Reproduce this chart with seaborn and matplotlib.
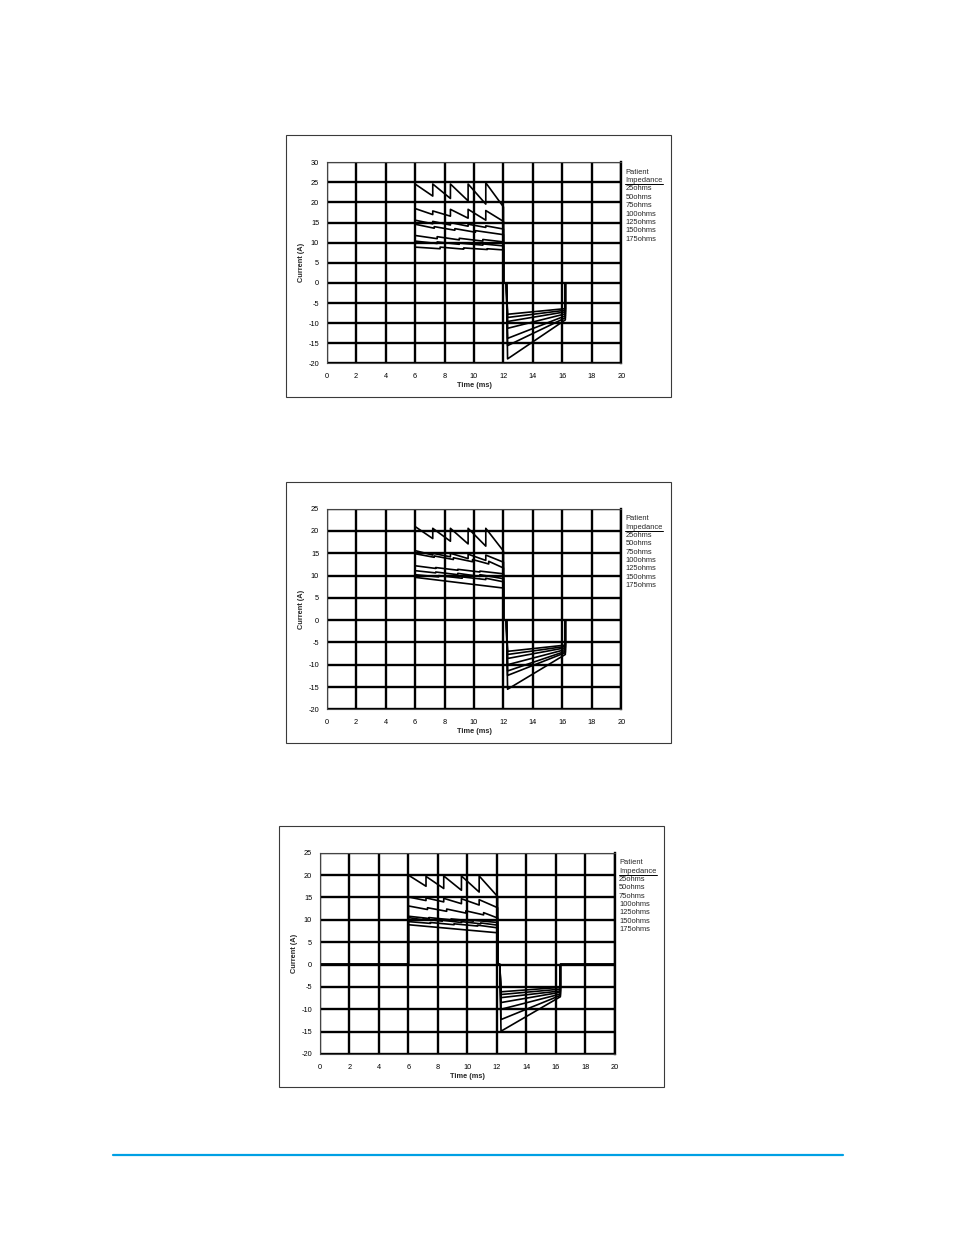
import matplotlib
matplotlib.use("Agg")
import matplotlib.pyplot as plt
from matplotlib.lines import Line2D
from matplotlib.patches import Rectangle
import numpy as np
import pandas as pd
import seaborn as sns

# ---------------- data ----------------
IMPEDANCES = ["25ohms", "50ohms", "75ohms", "100ohms", "125ohms", "150ohms", "175ohms"]
X_TICKS = [0, 2, 4, 6, 8, 10, 12, 14, 16, 18, 20]
Y_TICKS_1 = [-20, -15, -10, -5, 0, 5, 10, 15, 20, 25, 30]
Y_TICKS_23 = [-20, -15, -10, -5, 0, 5, 10, 15, 20, 25]

# phase timing (ms): positive start, positive end, negative start, negative end
C1_PHASES = [6.0, 12.0, 12.2, 16.2]
C2_PHASES = [6.0, 12.0, 12.2, 16.2]
C3_PHASES = [6.0, 12.05, 12.2, 16.3]

# chart 1: sawtooth jump times, peak values, trough values, negative phase
C1_JUMPS = [
    [7.2, 8.4, 9.6, 10.8],
    [7.2, 8.4, 9.6, 10.8],
    [7.2, 8.4, 9.6, 10.8],
    [7.3, 8.7, 10.1],
    [7.5, 9.0, 10.6],
    [7.5, 9.0, 10.6],
    [7.7, 9.3, 10.9],
]
C1_PEAKS = [
    [24.6, 24.6, 24.6, 24.6, 24.9],
    [18.5, 17.9, 18.3, 18.3, 18.0],
    [15.6, 15.3, 15.0, 14.6, 14.2],
    [14.6, 14.0, 13.5, 13.0],
    [11.8, 11.5, 11.1, 10.8],
    [10.4, 10.2, 9.9, 9.7],
    [8.9, 8.9, 8.7, 8.5],
]
C1_TROUGHS = [
    [21.6, 21.0, 20.4, 19.6, 18.9],
    [17.0, 16.6, 16.1, 15.6, 15.3],
    [14.7, 14.4, 14.1, 13.8, 13.4],
    [13.6, 13.1, 12.6, 12.0],
    [11.0, 10.7, 10.4, 10.2],
    [9.8, 9.6, 9.4, 9.2],
    [8.5, 8.4, 8.3, 8.2],
]
C1_NEG_START = [-18.9, -15.6, -13.8, -11.3, -9.6, -8.6, -7.8]
C1_NEG_END = [-9.2, -8.7, -8.2, -7.7, -7.2, -6.8, -6.4]

# chart 2
C2_JUMPS = [
    [7.2, 8.4, 9.6, 10.8],
    [7.2, 8.4, 9.6, 10.8],
    [7.3, 8.6, 9.9, 11.0],
    [7.4, 8.9, 10.4],
    [7.4, 8.9, 10.4],
    [7.6, 9.2, 10.8],
    [],
]
C2_PEAKS = [
    [21.0, 20.6, 20.6, 20.6, 20.6],
    [15.6, 15.0, 15.0, 14.8, 14.6],
    [14.9, 14.4, 14.0, 13.6, 13.2],
    [12.2, 11.8, 11.4, 11.0],
    [11.1, 10.8, 10.5, 10.2],
    [10.2, 10.0, 9.7, 9.4],
    [9.6],
]
C2_TROUGHS = [
    [18.3, 17.7, 17.1, 16.6, 15.5],
    [14.6, 14.2, 13.8, 13.4, 13.0],
    [14.1, 13.6, 13.1, 12.6, 11.7],
    [11.6, 11.2, 10.8, 10.4],
    [10.6, 10.2, 9.8, 9.3],
    [9.7, 9.4, 9.1, 8.6],
    [7.2],
]
C2_NEG_START = [-15.5, -12.4, -11.4, -10.0, -8.6, -7.7, -7.0]
C2_NEG_END = [-7.7, -7.3, -7.0, -6.6, -6.2, -5.9, -5.6]

# chart 3
C3_JUMPS = [
    [7.2, 8.4, 9.6, 10.8],
    [7.2, 8.4, 9.6, 10.8],
    [7.3, 8.6, 9.9, 11.1],
    [7.4, 8.9, 10.4],
    [7.0, 8.3, 9.6, 10.9],
    [7.5, 9.1, 10.7],
    [],
]
C3_PEAKS = [
    [20.0, 19.7, 19.8, 19.8, 19.8],
    [15.1, 14.9, 14.8, 14.7, 14.5],
    [13.1, 12.7, 12.4, 12.0, 11.6],
    [10.8, 10.5, 10.2, 9.9],
    [10.5, 10.2, 9.9, 9.6, 9.3],
    [9.6, 9.4, 9.1, 8.8],
    [8.9],
]
C3_TROUGHS = [
    [17.5, 17.0, 16.6, 16.2, 15.2],
    [14.3, 14.0, 13.6, 13.3, 12.7],
    [12.3, 11.9, 11.5, 11.1, 10.4],
    [10.3, 10.0, 9.7, 9.4],
    [10.0, 9.7, 9.4, 9.1, 8.8],
    [9.2, 8.9, 8.6, 8.2],
    [7.1],
]
C3_NEG_START = [-14.9, -12.3, -10.0, -8.5, -7.4, -6.7, -6.1]
C3_NEG_END = [-7.2, -6.9, -6.6, -6.2, -5.9, -5.5, -5.1]


def build_frame(phases, jumps, peaks, troughs, neg_start, neg_end):
    """Assemble the read vertex values into one long table (one waveform per impedance)."""
    rows = []
    t_on, t_off, t_neg, t_end = phases
    for i, name in enumerate(IMPEDANCES):
        pts = [(0.0, 0.0), (t_on, 0.0), (t_on, peaks[i][0])]
        for k, tj in enumerate(jumps[i]):
            pts.append((tj, troughs[i][k]))
            pts.append((tj, peaks[i][k + 1]))
        pts.append((t_off, troughs[i][-1]))
        pts.append((t_off, 0.0))
        pts.append((t_neg, 0.0))
        pts.append((t_neg + 0.08, neg_start[i]))
        pts.append((t_end, neg_end[i]))
        pts.append((t_end, 0.0))
        pts.append((20.0, 0.0))
        for t, c in pts:
            rows.append({"Time (ms)": t, "Current (A)": c, "Patient Impedance": name})
    return pd.DataFrame(rows)


CHARTS = [
    dict(df=build_frame(C1_PHASES, C1_JUMPS, C1_PEAKS, C1_TROUGHS, C1_NEG_START, C1_NEG_END),
         yticks=Y_TICKS_1, plot=(326.7, 162.3, 621.3, 363.3), frame=(286, 135, 671, 397)),
    dict(df=build_frame(C2_PHASES, C2_JUMPS, C2_PEAKS, C2_TROUGHS, C2_NEG_START, C2_NEG_END),
         yticks=Y_TICKS_23, plot=(326.7, 508.7, 621.3, 709.3), frame=(286, 482, 671, 743)),
    dict(df=build_frame(C3_PHASES, C3_JUMPS, C3_PEAKS, C3_TROUGHS, C3_NEG_START, C3_NEG_END),
         yticks=Y_TICKS_23, plot=(319.7, 852.7, 615.0, 1054.0), frame=(279, 826, 664, 1087)),
]

# ---------------- drawing ----------------
sns.set_style("white")
plt.rcParams["font.family"] = ["Liberation Sans", "DejaVu Sans"]
plt.rcParams["axes.unicode_minus"] = False

W, H = 954, 1235
fig = plt.figure(figsize=(W / 100, H / 100), dpi=100)
fig.patch.set_facecolor("white")


def fx(px):
    return px / W


def fy(py):
    return 1 - py / H


for ch in CHARTS:
    x0, y0, x1, y1 = ch["frame"]
    fig.add_artist(Rectangle((fx(x0), fy(y1)), fx(x1 - x0), (y1 - y0) / H,
                             transform=fig.transFigure, fill=False,
                             edgecolor="#3a3a3a", lw=0.8))

    l, t, r, b = ch["plot"]
    ax = fig.add_axes([fx(l), fy(b), fx(r - l), (b - t) / H])
    ax.set_axisbelow(True)
    sns.lineplot(data=ch["df"], x="Time (ms)", y="Current (A)", hue="Patient Impedance",
                 palette=["black"] * len(IMPEDANCES), estimator=None, sort=False,
                 legend=False, lw=1.2, ax=ax)
    yt = ch["yticks"]
    ax.set_xlim(X_TICKS[0], X_TICKS[-1])
    ax.set_ylim(yt[0], yt[-1])
    ax.set_xticks(X_TICKS)
    ax.set_yticks(yt)
    ax.grid(True, color="black", lw=1.7)
    ax.tick_params(axis="both", length=0, labelsize=5.3, colors="black")
    ax.tick_params(axis="x", pad=7)
    ax.tick_params(axis="y", pad=5.5)
    for s in ax.spines.values():
        s.set_linewidth(0.8)
        s.set_color("#444444")
    ax.spines["right"].set_linewidth(1.7)
    ax.spines["right"].set_color("black")
    ax.set_xlabel("Time (ms)", fontsize=5.3, fontweight="bold")
    ax.set_ylabel("Current (A)", fontsize=5.3, fontweight="bold")
    ax.xaxis.set_label_coords(0.5, -18.5 / (b - t))
    ax.yaxis.set_label_coords(-21.7 / (r - l), 0.5)

    # legend text block
    lx = r + 4
    fig.text(fx(lx), fy(t + 10), "Patient", fontsize=5.4, va="center", ha="left")
    fig.text(fx(lx), fy(t + 18.7), "Impedance", fontsize=5.4, va="center", ha="left")
    fig.add_artist(Line2D([fx(lx), fx(lx + 38)], [fy(t + 22), fy(t + 22)],
                          transform=fig.transFigure, color="black", lw=0.7))
    for k, name in enumerate(IMPEDANCES):
        fig.text(fx(lx), fy(t + 26.7 + 8.35 * k), name, fontsize=5.4, va="center", ha="left")

# blue footer rule
fig.add_artist(Line2D([fx(113), fx(843)], [fy(1155), fy(1155)],
                      transform=fig.transFigure, color="#00a0e4", lw=1.6))

fig.savefig("out.png", dpi=100, facecolor="white")
